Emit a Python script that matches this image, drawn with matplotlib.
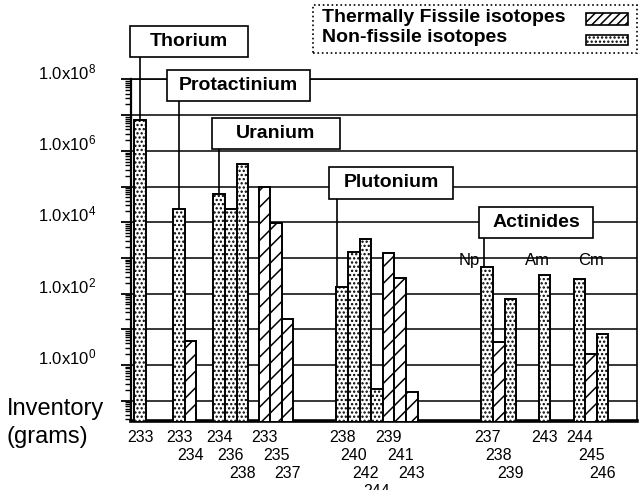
import matplotlib
matplotlib.use("Agg")
import matplotlib.pyplot as plt
import matplotlib.ticker as mticker
from matplotlib.patches import Rectangle
from matplotlib.transforms import ScaledTranslation
import numpy as np

plt.rcParams['font.family'] = ['Liberation Sans', 'DejaVu Sans']
plt.rcParams['hatch.linewidth'] = 1.1

# inventory in grams
th_isotopes = [233]
th_values = [7.3e6]
th_fissile = [0]

pa_isotopes = [233, 234]
pa_values = [2.4e4, 4.8]
pa_fissile = [0, 1]

u_isotopes = [234, 236, 238, 233, 235, 237]
u_values = [6.2e4, 2.4e4, 4.3e5, 9.5e4, 9.5e3, 19.5]
u_fissile = [0, 0, 0, 1, 1, 1]

pu_isotopes = [238, 240, 242, 244, 239, 241, 243]
pu_values = [157, 1500, 3300, 0.21, 1350, 280, 0.18]
pu_fissile = [0, 0, 0, 0, 1, 1, 1]

np_isotopes = [237, 238, 239]
np_values = [550, 4.5, 70]
np_fissile = [0, 1, 0]

am_isotopes = [243]
am_values = [335]
am_fissile = [0]

cm_isotopes = [244, 245, 246]
cm_values = [258, 2.0, 7.3]
cm_fissile = [0, 1, 0]

series = [
    ('Th', th_isotopes, th_values, th_fissile),
    ('Pa', pa_isotopes, pa_values, pa_fissile),
    ('U', u_isotopes, u_values, u_fissile),
    ('Pu', pu_isotopes, pu_values, pu_fissile),
    ('Np', np_isotopes, np_values, np_fissile),
    ('Am', am_isotopes, am_values, am_fissile),
    ('Cm', cm_isotopes, cm_values, cm_fissile),
]

FISSILE_HATCH = '//'
OTHER_HATCH = '....'

# layout: (start slot, number of bars) for each run of bars, labels stagger per run
runs = {
    'Th': [(0.78, 1)],
    'Pa': [(4.14, 2)],
    'U': [(7.6, 3), (11.5, 3)],
    'Pu': [(18.2, 4), (22.2, 3)],
    'Np': [(30.7, 3)],
    'Am': [(35.65, 1)],
    'Cm': [(38.66, 3)],
}

fig = plt.figure(figsize=(6.39, 4.90), dpi=100)
ax = fig.add_axes([131/639, 69/490, 506/639, 341.5/490])
ax.set_yscale('log')

first = {}
for name, iso, vals, fis in series:
    xs, rows = [], []
    for start, n in runs[name]:
        xs += [start + i for i in range(n)]
        rows += list(range(n))
    first[name] = (xs[0], vals[0])
    for x, v, f, r, lab in zip(xs, vals, fis, rows, iso):
        ax.bar(x, v, width=1.0, facecolor='white', edgecolor='black',
               linewidth=1.4, hatch=FISSILE_HATCH if f else OTHER_HATCH, zorder=3)
        ax.annotate(str(lab), xy=(x, 0), xycoords=('data', 'axes fraction'),
                    xytext=(0, -16 - 18.2 * r), textcoords='offset pixels',
                    ha='center', va='center', fontsize=11.5, annotation_clip=False)

ax.set_xlim(0, 43.62)
ax.set_ylim(10**-1.57, 1e8)

ax.yaxis.set_major_locator(mticker.FixedLocator([10.0**k for k in range(-1, 9)]))
ax.yaxis.set_minor_locator(mticker.LogLocator(base=10, subs=np.arange(2, 10), numticks=20))

def fmt(v, pos):
    k = int(round(np.log10(v)))
    if k >= 0 and k % 2 == 0:
        return r'$\mathregular{1.0x10^{%d}}$' % k
    return ''

ax.yaxis.set_major_formatter(mticker.FuncFormatter(fmt))
ax.yaxis.set_minor_formatter(mticker.NullFormatter())
ax.tick_params(axis='y', which='major', direction='out', length=7, width=1.3, pad=18, labelsize=12)
ax.tick_params(axis='y', which='minor', direction='out', length=4, width=1.0)
ax.set_xticks([])
offset = ScaledTranslation(0, 9/100, fig.dpi_scale_trans)
for lbl in ax.get_yticklabels():
    lbl.set_transform(lbl.get_transform() + offset)

ax.grid(axis='y', which='major', color='black', linewidth=1.1)
ax.set_axisbelow(True)
for s in ['top', 'right']:
    ax.spines[s].set_linewidth(1.2)
ax.spines['left'].set_linewidth(1.6)
ax.spines['bottom'].set_linewidth(2.6)

# element boxes: name, centre slot, centre decade, width in slots, leader source, leader shift
boxes = [
    ('Thorium', 5.02, 9.07, 10.2, 'Th', 0.0),
    ('Protactinium', 9.25, 7.83, 12.35, 'Pa', 0.0),
    ('Uranium', 12.49, 6.48, 11.06, 'U', 0.0),
    ('Plutonium', 22.44, 5.10, 10.69, 'Pu', -0.45),
    ('Actinides', 34.93, 3.98, 9.85, 'Np', -0.25),
]
box_h = 0.87
for text, xc, yc, w, src, dx in boxes:
    y0 = 10**(yc - box_h/2)
    y1 = 10**(yc + box_h/2)
    ax.add_patch(Rectangle((xc - w/2, y0), w, y1 - y0, facecolor='white',
                           edgecolor='black', linewidth=1.2, zorder=5, clip_on=False))
    ax.text(xc, 10**yc, text, ha='center', va='center', fontsize=14,
            fontweight='bold', zorder=6, clip_on=False)
    bx, bv = first[src]
    ax.plot([bx + dx, bx + dx], [y0, bv], color='black', linewidth=1.2,
            zorder=4, clip_on=False)

# sub-element names in the actinide group
for name, dx in [('Np', -1.5), ('Am', -0.6), ('Cm', 1.0)]:
    ax.text(first[name][0] + dx, 10**2.94, name, ha='center', va='center',
            fontsize=12, zorder=6)

fig.text(7/639, 1 - 409/490, 'Inventory', ha='left', va='center', fontsize=17)
fig.text(7/639, 1 - 437/490, '(grams)', ha='left', va='center', fontsize=17)

# legend: text on the left, swatch on the right, dotted frame
W, H = 639, 490
fig.add_artist(Rectangle((313/W, 1 - 53/H), 324/W, 48/H, transform=fig.transFigure,
                         fill=False, edgecolor='black', linestyle=':', linewidth=1.2))
legend_rows = [('Thermally Fissile isotopes', FISSILE_HATCH * 2, 18, 13, 12),
               ('Non-fissile isotopes', OTHER_HATCH, 38, 35, 10)]
for label, hatch, ty, sy, sh in legend_rows:
    fig.text(322/W, 1 - ty/H, label, ha='left', va='center', fontsize=14, fontweight='bold')
    fig.add_artist(Rectangle((586/W, 1 - (sy + sh)/H), 42/W, sh/H, transform=fig.transFigure,
                             facecolor='white', edgecolor='black', linewidth=1.2, hatch=hatch))

fig.savefig('out.png', dpi=100)
